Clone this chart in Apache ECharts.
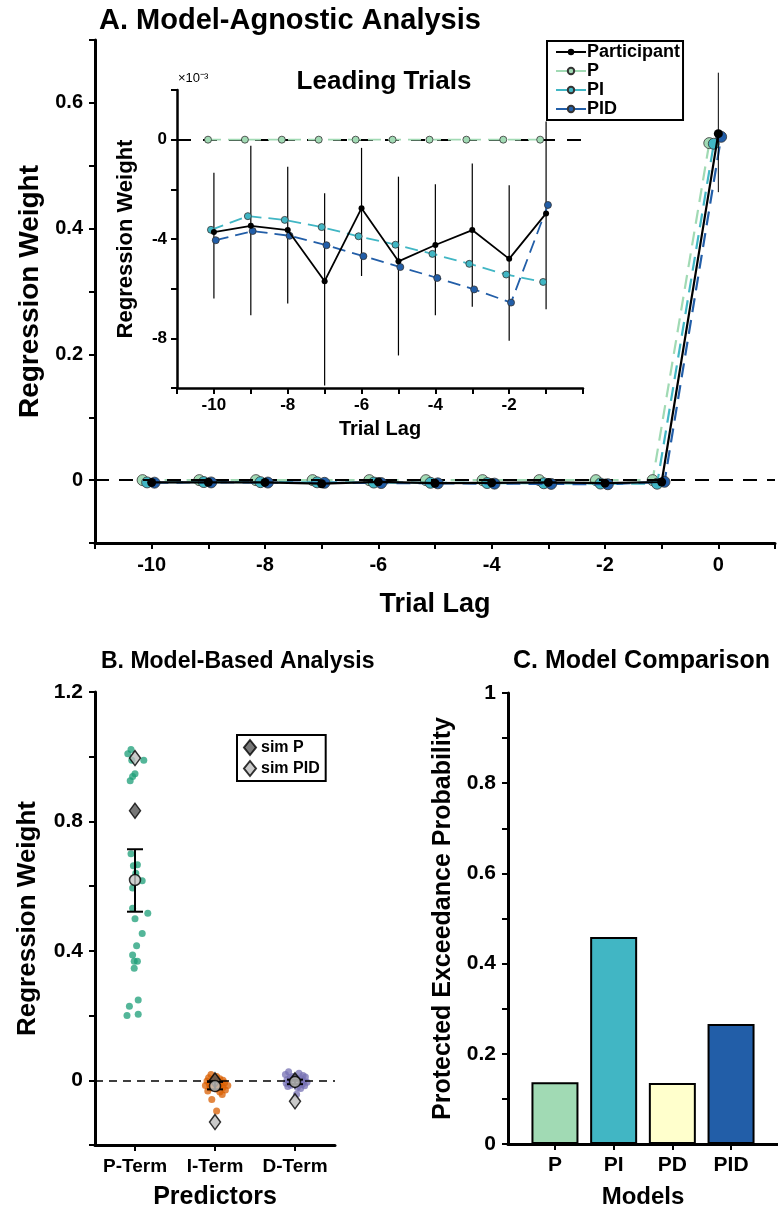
<!DOCTYPE html>
<html>
<head>
<meta charset="utf-8">
<script src="https://cdn.jsdelivr.net/npm/echarts@6/dist/echarts.min.js"></script>
<style>
html,body{margin:0;padding:0;background:#fff;}
#c{width:778px;height:1211px;}
</style>
</head>
<body>
<div id="c"></div>
<script>
// ---------- Panel A data ----------
const lagsLead = [-10, -9, -8, -7, -6, -5, -4, -3, -2, -1];
// leading-trial weights, in units of 1e-3
const partLead   = [-3.72, -3.47, -3.64, -5.70, -2.76, -4.90, -4.24, -3.64, -4.80, -2.97];
const partLeadLo = [-6.40, -7.07, -6.60, -9.90, -5.49, -8.69, -7.07, -6.73, -8.10, -6.83];
const partLeadHi = [-1.33, -0.24, -1.09, -2.16, -0.33, -1.49, -1.80, -0.96, -1.84, 0.73];
const pLead   = [0, 0, 0, 0, 0, 0, 0, 0, 0, 0];
const piLead  = [-3.63, -3.08, -3.23, -3.52, -3.89, -4.23, -4.60, -5.00, -5.43, -5.73];
const pidLead = [-4.05, -3.68, -3.87, -4.25, -4.69, -5.13, -5.57, -6.03, -6.56, -2.63];
// lag 0 weights
const partLag0 = 0.551, partLag0Lo = 0.458, partLag0Hi = 0.648;
const pLag0 = 0.536, piLag0 = 0.535, pidLag0 = 0.546;
const leadScale = 1e-3;

// ---------- Panel B data ----------
const predictors = ['P-Term', 'I-Term', 'D-Term'];
const pTerm = [1.022, 1.009, 0.989, 0.989, 0.947, 0.939, 0.926, 0.700, 0.666, 0.663, 0.640, 0.617, 0.594,
               0.532, 0.516, 0.499, 0.454, 0.416, 0.387, 0.368, 0.368, 0.346, 0.248, 0.229, 0.204, 0.200];
const pJitter = [-0.05, -0.09, -0.04, 0.11, 0.00, -0.03, -0.06, -0.05, 0.03, -0.02, 0.01, 0.09, -0.03,
                 -0.03, 0.16, 0.00, 0.09, 0.02, -0.03, -0.01, 0.03, -0.01, 0.04, -0.07, 0.04, -0.10];
const iTerm = [0.018, 0.012, 0.008, 0.005, 0.003, 0.000, -0.002, -0.004, -0.006, -0.008, -0.010, -0.012, -0.014,
               -0.016, -0.018, -0.020, -0.022, -0.024, -0.027, -0.030, -0.033, -0.036, -0.044, -0.059, -0.095, -0.016];
const iJitter = [-0.05, 0.02, -0.08, 0.06, -0.02, 0.10, -0.10, 0.04, -0.04, 0.12, 0.00, -0.07, 0.08,
                 -0.12, 0.05, -0.03, 0.10, -0.06, 0.02, 0.13, -0.09, 0.06, 0.09, -0.04, 0.02, 0.16];
const dTerm = [0.026, 0.022, 0.018, 0.015, 0.012, 0.010, 0.008, 0.006, 0.004, 0.002, 0.000, -0.001, -0.003,
               -0.005, -0.007, -0.009, -0.011, -0.013, -0.015, -0.017, -0.019, -0.022, -0.025, -0.043, 0.003, -0.006];
const dJitter = [-0.08, 0.05, -0.12, 0.10, -0.03, 0.13, -0.06, 0.02, 0.08, -0.10, 0.04, -0.02, 0.11,
                 -0.07, 0.06, -0.11, 0.01, 0.09, -0.05, 0.12, -0.09, 0.03, 0.07, 0.02, -0.01, 0.15];
const termMean = [0.619, -0.018, -0.005];
const termLo   = [0.521, -0.028, -0.012];
const termHi   = [0.714, -0.005, 0.002];
const simP     = [0.833, 0.000, 0.000];
const simPID   = [0.996, -0.129, -0.065];

// ---------- Panel C data ----------
const models = ['P', 'PI', 'PD', 'PID'];
const pxp = [0.137, 0.459, 0.135, 0.266];

// ---------- styles ----------
const FONT = 'Liberation Sans, Arial, Helvetica, sans-serif';
const COL = { P: '#a1dab4', PI: '#41b6c4', PD: '#ffffcc', PID: '#225ea8' };
const offs = { P: -0.16, PI: -0.08, PID: 0.05 };
const bold = (s) => ({ fontFamily: FONT, fontWeight: 'bold', fontSize: s, color: '#000' });

function axisBase(w) {
  return {
    axisLine: { show: true, onZero: false, lineStyle: { color: '#000', width: w } },
    axisTick: { show: true, inside: false, length: 6, lineStyle: { color: '#000', width: 2 } },
    splitLine: { show: false },
  };
}

const mainLead = (arr, off) => lagsLead.map((l, i) => [l + off, arr[i] * leadScale]);
const insetLead = (arr, off) => lagsLead.map((l, i) => [l + off, arr[i]]);

function errRender(capHalf, width) {
  return function (params, api) {
    const x = api.value(0), lo = api.value(1), hi = api.value(2);
    const a = api.coord([x, lo]), b = api.coord([x, hi]);
    const style = { stroke: '#000', lineWidth: width };
    const children = [{ type: 'line', shape: { x1: a[0], y1: a[1], x2: b[0], y2: b[1] }, style }];
    if (capHalf > 0) {
      children.push({ type: 'line', shape: { x1: a[0] - capHalf, y1: a[1], x2: a[0] + capHalf, y2: a[1] }, style });
      children.push({ type: 'line', shape: { x1: b[0] - capHalf, y1: b[1], x2: b[0] + capHalf, y2: b[1] }, style });
    }
    return { type: 'group', children };
  };
}

function modelLine(name, xi, yi, data, size, lw, dash, z) {
  return {
    name, type: 'line', xAxisIndex: xi, yAxisIndex: yi, data,
    symbol: 'circle', symbolSize: size, showSymbol: true,
    lineStyle: { color: COL[name], width: lw, type: dash },
    itemStyle: { color: COL[name], borderColor: '#333', borderWidth: 0.8 },
    z, animation: false,
  };
}

const series = [];
// ----- main panel A -----
series.push(modelLine('P', 0, 0, mainLead(pLead, offs.P).concat([[offs.P, pLag0]]), 11, 2.2, [14, 8], 3));
series.push(modelLine('PI', 0, 0, mainLead(piLead, offs.PI).concat([[offs.PI, piLag0]]), 11, 2.2, [14, 8], 4));
series.push(modelLine('PID', 0, 0, mainLead(pidLead, offs.PID).concat([[offs.PID, pidLag0]]), 11, 2.2, [14, 8], 5));
series.push({
  name: 'Participant', type: 'line', xAxisIndex: 0, yAxisIndex: 0,
  data: mainLead(partLead, 0).concat([[0, partLag0]]),
  symbol: 'circle', symbolSize: 9, lineStyle: { color: '#000', width: 2.2 },
  itemStyle: { color: '#000' }, z: 6, animation: false,
  markLine: {
    silent: true, symbol: 'none', animation: false,
    lineStyle: { color: '#000', width: 2, type: [14, 10] }, label: { show: false },
    data: [{ yAxis: 0 }],
  },
});
series.push({
  type: 'custom', xAxisIndex: 0, yAxisIndex: 0, z: 6, animation: false,
  renderItem: errRender(0, 1), encode: { x: 0, y: [1, 2] },
  data: lagsLead.map((l, i) => [l, partLeadLo[i] * leadScale, partLeadHi[i] * leadScale]).concat([[0, partLag0Lo, partLag0Hi]]),
});
// ----- inset -----
series.push(modelLine('P', 1, 1, insetLead(pLead, offs.P), 7, 1.8, [13, 7], 13));
series.push(modelLine('PI', 1, 1, insetLead(piLead, offs.PI), 7, 1.8, [13, 7], 14));
series.push(modelLine('PID', 1, 1, insetLead(pidLead, offs.PID), 7, 1.8, [13, 7], 15));
series.push({
  name: 'Participant', type: 'line', xAxisIndex: 1, yAxisIndex: 1,
  data: insetLead(partLead, 0), symbol: 'circle', symbolSize: 6,
  lineStyle: { color: '#000', width: 1.8 }, itemStyle: { color: '#000' }, z: 16, animation: false,
  markLine: {
    silent: true, symbol: 'none', animation: false,
    lineStyle: { color: '#000', width: 2, type: [14, 12] }, label: { show: false },
    data: [{ yAxis: 0 }],
  },
});
series.push({
  type: 'custom', xAxisIndex: 1, yAxisIndex: 1, z: 12, animation: false,
  renderItem: errRender(0, 1.2), encode: { x: 0, y: [1, 2] },
  data: lagsLead.map((l, i) => [l, partLeadLo[i], partLeadHi[i]]),
});
// ----- panel B -----
const termSets = [[pTerm, pJitter, '#1b9e77'], [iTerm, iJitter, '#d95f02'], [dTerm, dJitter, '#7570b3']];
termSets.forEach(([vals, jit, c], k) => {
  series.push({
    type: 'scatter', xAxisIndex: 2, yAxisIndex: 2, z: 2, animation: false,
    symbolSize: 7, itemStyle: { color: c, opacity: 0.75 },
    data: vals.map((v, i) => [k + 1 + jit[i], v]),
    markLine: k === 0 ? {
      silent: true, symbol: 'none', animation: false,
      lineStyle: { color: '#000', width: 1.5, type: [8, 6] }, label: { show: false },
      data: [{ yAxis: 0 }],
    } : undefined,
  });
});
series.push({
  name: 'sim P', type: 'scatter', xAxisIndex: 2, yAxisIndex: 2, z: 3, animation: false,
  symbol: 'diamond', symbolSize: [11, 15],
  itemStyle: { color: '#555555', borderColor: '#000', borderWidth: 1.5 },
  data: simP.map((v, i) => [i + 1, v]),
});
series.push({
  name: 'sim PID', type: 'scatter', xAxisIndex: 2, yAxisIndex: 2, z: 3, animation: false,
  symbol: 'diamond', symbolSize: [11, 15],
  itemStyle: { color: '#bdbdbd', borderColor: '#000', borderWidth: 1.5 },
  data: simPID.map((v, i) => [i + 1, v]),
});
series.push({
  type: 'custom', xAxisIndex: 2, yAxisIndex: 2, z: 4, animation: false,
  renderItem: errRender(8, 2), encode: { x: 0, y: [1, 2] },
  data: termMean.map((m, i) => [i + 1, termLo[i], termHi[i]]),
});
series.push({
  type: 'scatter', xAxisIndex: 2, yAxisIndex: 2, z: 5, animation: false,
  symbol: 'circle', symbolSize: 11,
  itemStyle: { color: '#c4c4c4', borderColor: '#000', borderWidth: 1.5 },
  data: termMean.map((m, i) => [i + 1, m]),
});
// ----- panel C -----
series.push({
  type: 'bar', xAxisIndex: 3, yAxisIndex: 3, barWidth: 47, animation: false,
  data: pxp.map((v, i) => ({ value: [i + 1, v], itemStyle: { color: COL[models[i]], borderColor: '#000', borderWidth: 2 } })),
});

const option = {
  animation: false,
  backgroundColor: '#fff',
  title: [
    { text: 'A. Model-Agnostic Analysis', left: 94, top: 1, textStyle: bold(29) },
    { text: 'Leading Trials', left: 379, top: 64, textAlign: 'center', textStyle: bold(26) },
    { text: 'B. Model-Based Analysis', left: 96, top: 645, textStyle: bold(23) },
    { text: 'C. Model Comparison', left: 508, top: 644, textStyle: bold(25) },
  ],
  legend: [
    {
      data: ['Participant', 'P', 'PI', 'PID'], orient: 'vertical', left: 547, top: 41,
      backgroundColor: '#fff', borderColor: '#000', borderWidth: 2, padding: [2, 3, 2, 8],
      itemGap: 1, itemWidth: 30, itemHeight: 8, textStyle: { ...bold(18), padding: [0, 0, 0, -4] },
      lineStyle: { type: 'solid' },
    },
    {
      data: ['sim P', 'sim PID'], orient: 'vertical', left: 237, top: 735,
      backgroundColor: '#fff', borderColor: '#000', borderWidth: 2, padding: [4, 6, 4, 6],
      itemGap: 4, itemWidth: 12, itemHeight: 15, textStyle: bold(16),
    },
  ],
  graphic: [
    { type: 'text', left: 178, top: 72, style: { text: '×10⁻³', font: '13px ' + FONT, fill: '#000' } },
  ],
  grid: [
    { left: 95, top: 40, width: 683, height: 503 },
    { left: 177, top: 90, width: 406, height: 298 },
    { left: 95, top: 692, width: 240, height: 453 },
    { left: 508, top: 693, width: 270, height: 451 },
  ],
  xAxis: [
    {
      gridIndex: 0, type: 'value', min: -11, max: 1, interval: 1, ...axisBase(3),
      axisLabel: { ...bold(20), margin: 12, formatter: v => (v % 2 === 0 && v <= 0 && v >= -10) ? String(v) : '' },
      name: 'Trial Lag', nameLocation: 'middle', nameGap: 48, nameTextStyle: bold(27),
    },
    {
      gridIndex: 1, type: 'value', min: -11, max: 0, interval: 1, ...axisBase(2.5),
      axisLabel: { ...bold(17), margin: 9, formatter: v => (v % 2 === 0 && v < 0 && v >= -10) ? String(v) : '' },
      name: 'Trial Lag', nameLocation: 'middle', nameGap: 31, nameTextStyle: bold(20),
    },
    {
      gridIndex: 2, type: 'value', min: 0.5, max: 3.5, ...axisBase(3),
      axisTick: { show: true, length: 6, customValues: [1, 2, 3], lineStyle: { color: '#000', width: 2 } },
      axisLabel: { ...bold(19), margin: 12, customValues: [1, 2, 3], formatter: v => predictors[Math.round(v) - 1] || '' },
      name: 'Predictors', nameLocation: 'middle', nameGap: 40, nameTextStyle: bold(25),
    },
    {
      gridIndex: 3, type: 'value', min: 0.2, max: 4.8, ...axisBase(3),
      axisTick: { show: true, length: 6, customValues: [1, 2, 3, 4], lineStyle: { color: '#000', width: 2 } },
      axisLabel: { ...bold(21), margin: 11, customValues: [1, 2, 3, 4], formatter: v => models[Math.round(v) - 1] || '' },
      name: 'Models', nameLocation: 'middle', nameGap: 41, nameTextStyle: bold(24),
    },
  ],
  yAxis: [
    {
      gridIndex: 0, type: 'value', min: -0.1, max: 0.7, interval: 0.1, ...axisBase(3),
      axisLabel: { ...bold(20), margin: 12, formatter: v => { const k = Math.round(v * 10); return (k >= 0 && k % 2 === 0) ? (k === 0 ? '0' : String(k / 10)) : ''; } },
      name: 'Regression Weight', nameLocation: 'middle', nameGap: 50, nameTextStyle: bold(28),
    },
    {
      gridIndex: 1, type: 'value', min: -10, max: 2, interval: 2, ...axisBase(2.5),
      axisLabel: { ...bold(17), margin: 10, formatter: v => (v % 4 === 0 && v <= 0 && v > -10) ? String(v) : '' },
      name: 'Regression Weight', nameLocation: 'middle', nameGap: 40, nameTextStyle: bold(22),
    },
    {
      gridIndex: 2, type: 'value', min: -0.2, max: 1.2, interval: 0.2, ...axisBase(3),
      axisLabel: { ...bold(21), margin: 12, formatter: v => { const k = Math.round(v * 10); return (k >= 0 && k % 4 === 0) ? (k === 0 ? '0' : String(k / 10)) : ''; } },
      name: 'Regression Weight', nameLocation: 'middle', nameGap: 54, nameTextStyle: bold(26),
    },
    {
      gridIndex: 3, type: 'value', min: 0, max: 1, interval: 0.1, ...axisBase(3),
      axisLabel: { ...bold(21), margin: 12, formatter: v => { const k = Math.round(v * 10); return (k % 2 === 0) ? (k === 0 ? '0' : k === 10 ? '1' : String(k / 10)) : ''; } },
      name: 'Protected Exceedance Probability', nameLocation: 'middle', nameGap: 52, nameTextStyle: bold(25),
    },
  ],
  series,
};

const chart = echarts.init(document.getElementById('c'), null, { renderer: 'canvas' });
chart.setOption(option);
</script>
</body>
</html>
